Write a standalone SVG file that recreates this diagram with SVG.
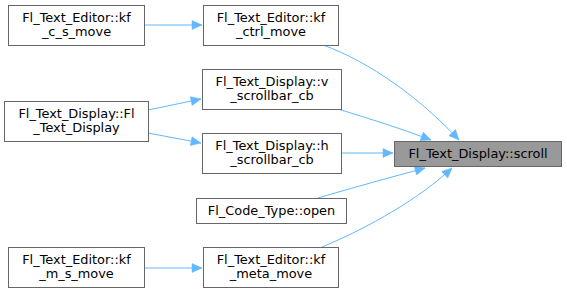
<svg xmlns="http://www.w3.org/2000/svg" width="567" height="293" viewBox="0 0 567 293">
<style>
  .node rect { fill: #ffffff; stroke: #666666; stroke-width: 1; }
  .node.hl rect { fill: #999999; }
  .node text { font-family: "DejaVu Sans", "Liberation Sans", sans-serif; font-size: 12.9px; fill: #000000; text-anchor: middle; }
  .edge { fill: none; stroke: #63b8ff; stroke-width: 1; }
</style>
<defs>
  <marker id="arrow" viewBox="0 0 10 10" refX="10" refY="5" markerWidth="12" markerHeight="10" markerUnits="userSpaceOnUse" orient="auto">
    <path d="M0,0.5 L10,5 L0,9.5 Z" fill="#63b8ff" stroke="#63b8ff" stroke-width="0.5"/>
  </marker>
</defs>
<rect width="567" height="293" fill="#ffffff"/>

<!-- call edges -->
<g id="edges">
  <path class="edge" marker-end="url(#arrow)" d="M144,25 L202,25"/>
  <path class="edge" marker-end="url(#arrow)" d="M148,110 L201,99"/>
  <path class="edge" marker-end="url(#arrow)" d="M148,133 L201,143"/>
  <path class="edge" marker-end="url(#arrow)" d="M144,268 L202,268"/>
  <path class="edge" marker-end="url(#arrow)" d="M323,45 C370,62 420,98 459,140"/>
  <path class="edge" marker-end="url(#arrow)" d="M338,109 C370,119 400,128 431,140"/>
  <path class="edge" marker-end="url(#arrow)" d="M341,153 L393,153"/>
  <path class="edge" marker-end="url(#arrow)" d="M318,198 C355,187 392,177 425,168"/>
  <path class="edge" marker-end="url(#arrow)" d="M322,247 C370,227 420,198 452,168"/>
</g>

<g id="node_kf_c_s_move" class="node">
  <rect x="8.5" y="5.5" width="136" height="40"/>
  <text x="76.5" y="22">Fl_Text_Editor::kf</text>
  <text x="76.5" y="36">_c_s_move</text>
</g>
<g id="node_kf_ctrl_move" class="node">
  <rect x="203.5" y="5.5" width="135" height="40"/>
  <text x="271" y="22">Fl_Text_Editor::kf</text>
  <text x="271" y="36">_ctrl_move</text>
</g>
<g id="node_Fl_Text_Display" class="node">
  <rect x="4.5" y="101.5" width="144" height="40"/>
  <text x="76.5" y="118">Fl_Text_Display::Fl</text>
  <text x="76.5" y="132">_Text_Display</text>
</g>
<g id="node_v_scrollbar_cb" class="node">
  <rect x="202.5" y="69.5" width="139" height="40"/>
  <text x="272" y="86">Fl_Text_Display::v</text>
  <text x="272" y="100">_scrollbar_cb</text>
</g>
<g id="node_h_scrollbar_cb" class="node">
  <rect x="202.5" y="133.5" width="139" height="40"/>
  <text x="272" y="150">Fl_Text_Display::h</text>
  <text x="272" y="164">_scrollbar_cb</text>
</g>
<g id="node_open" class="node">
  <rect x="196.5" y="198.5" width="150" height="25"/>
  <text x="271.5" y="215">Fl_Code_Type::open</text>
</g>
<g id="node_kf_m_s_move" class="node">
  <rect x="8.5" y="247.5" width="136" height="40"/>
  <text x="76.5" y="264">Fl_Text_Editor::kf</text>
  <text x="76.5" y="278">_m_s_move</text>
</g>
<g id="node_kf_meta_move" class="node">
  <rect x="203.5" y="247.5" width="135" height="40"/>
  <text x="271" y="264">Fl_Text_Editor::kf</text>
  <text x="271" y="278">_meta_move</text>
</g>
<g id="node_scroll" class="node hl">
  <rect x="394.5" y="141.5" width="167" height="25"/>
  <text x="478" y="158">Fl_Text_Display::scroll</text>
</g>
</svg>
